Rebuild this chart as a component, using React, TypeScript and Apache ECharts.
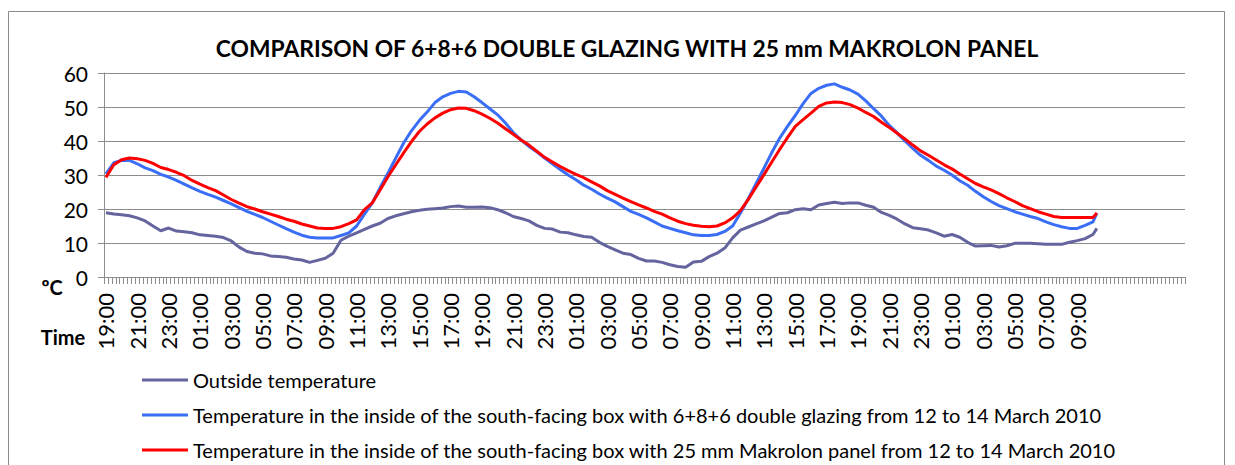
import React, { useEffect, useRef } from "react";
import * as echarts from "echarts";

const TITLE = "COMPARISON OF 6+8+6 DOUBLE GLAZING WITH 25 mm MAKROLON PANEL";
const SERIES_NAMES = [
  "Outside temperature",
  "Temperature in the inside of the south-facing box with 6+8+6 double glazing from 12 to 14 March 2010",
  "Temperature in the inside of the south-facing box with 25 mm Makrolon panel from 12 to 14 March 2010",
];
const SERIES_COLORS = ["#64649e", "#3b6ef6", "#ff0000"];

// x axis: 15-minute categories starting at 19:00
const START_MINUTES = 19 * 60;
const STEP_MINUTES = 15;
const CATEGORY_COUNT = 276;
const LABEL_EVERY = 8; // one label every 2 hours
// samples are read every 30 minutes (every 2nd category), plus a final reading
const SAMPLE_STEP = 2;
const LAST_SAMPLE_INDEX = 253;

const Y_MIN = 0;
const Y_MAX = 60;
const Y_STEP = 10;

const OUTSIDE = [
  18.9, 18.5, 18.3, 18.0, 17.4, 16.5, 15.0, 13.6, 14.4, 13.5,
  13.3, 13.0, 12.4, 12.2, 12.0, 11.6, 10.6, 8.8, 7.5, 7.0,
  6.8, 6.2, 6.0, 5.8, 5.3, 5.0, 4.3, 4.9, 5.5, 7.0,
  10.8, 12.0, 13.0, 14.0, 15.0, 15.8, 17.2, 18.0, 18.6, 19.2,
  19.6, 19.9, 20.1, 20.3, 20.7, 20.9, 20.5, 20.5, 20.6, 20.4,
  19.8, 18.9, 17.8, 17.2, 16.5, 15.2, 14.3, 14.1, 13.2, 13.0,
  12.4, 11.9, 11.7, 10.2, 9.0, 8.0, 7.0, 6.6, 5.5, 4.7,
  4.7, 4.3, 3.6, 3.1, 2.9, 4.4, 4.6, 6.0, 7.0, 8.5,
  11.5, 13.8, 14.7, 15.6, 16.5, 17.6, 18.7, 18.9, 19.8, 20.1,
  19.8, 21.2, 21.6, 22.0, 21.6, 21.8, 21.8, 21.1, 20.5, 19.0,
  18.1, 17.0, 15.6, 14.5, 14.2, 13.8, 13.0, 12.0, 12.5, 11.7,
  10.2, 9.1, 9.2, 9.3, 8.8, 9.2, 9.9, 9.9, 9.9, 9.8,
  9.6, 9.6, 9.6, 10.2, 10.7, 11.3, 12.5,
];
const OUTSIDE_LAST = 14.3;

const DOUBLE_GLAZING = [
  30.3, 33.6, 34.3, 34.3, 33.3, 32.1, 31.3, 30.2, 29.4, 28.4,
  27.3, 26.2, 25.2, 24.3, 23.5, 22.5, 21.5, 20.4, 19.3, 18.4,
  17.5, 16.4, 15.3, 14.2, 13.2, 12.3, 11.7, 11.5, 11.5, 11.5,
  12.2, 13.0, 15.0, 18.5, 21.8, 26.3, 30.5, 35.0, 39.4, 43.0,
  46.0, 48.5, 51.3, 53.0, 54.0, 54.6, 54.4, 53.0, 51.3, 49.5,
  47.7, 45.3, 42.5, 40.3, 38.4, 36.8, 35.0, 33.3, 31.6, 30.0,
  28.6, 27.0, 25.8, 24.4, 23.2, 22.1, 20.7, 19.3, 18.4, 17.4,
  16.2, 15.0, 14.3, 13.6, 13.0, 12.4, 12.2, 12.2, 12.5, 13.4,
  15.0, 18.8, 23.0, 27.5, 32.0, 36.6, 40.8, 44.3, 47.5, 51.0,
  54.0, 55.5, 56.4, 56.8, 55.8, 55.0, 53.8, 51.8, 49.5, 47.3,
  44.6, 42.4, 40.0, 37.8, 35.8, 34.3, 32.6, 31.4, 30.0, 28.3,
  27.0, 25.2, 23.6, 22.2, 21.0, 20.1, 19.2, 18.5, 17.8, 17.2,
  16.2, 15.4, 14.8, 14.3, 14.3, 15.2, 16.2,
];
const DOUBLE_GLAZING_LAST = 18.8;

const MAKROLON = [
  29.3, 33.0, 34.5, 35.0, 34.8, 34.3, 33.4, 32.2, 31.6, 30.8,
  29.8, 28.4, 27.3, 26.3, 25.4, 24.1, 22.8, 21.7, 20.7, 20.0,
  19.2, 18.5, 17.8, 17.0, 16.4, 15.6, 15.0, 14.4, 14.3, 14.3,
  14.8, 15.7, 16.8, 19.8, 21.8, 25.6, 29.5, 33.0, 36.5, 39.8,
  42.8, 45.0, 46.8, 48.2, 49.2, 49.7, 49.6, 48.9, 47.9, 46.7,
  45.3, 43.6, 42.0, 40.3, 38.8, 37.0, 35.2, 33.8, 32.5, 31.3,
  30.2, 29.2, 28.0, 26.8, 25.4, 24.3, 23.2, 22.2, 21.2, 20.3,
  19.3, 18.5, 17.4, 16.4, 15.7, 15.2, 14.9, 14.8, 15.0, 15.9,
  17.4, 19.5, 22.8, 26.5, 30.1, 33.8, 37.5, 41.0, 44.3, 46.3,
  48.2, 50.2, 51.2, 51.5, 51.3, 50.7, 49.7, 48.4, 47.2, 45.5,
  44.0, 42.3, 40.6, 38.8, 37.1, 35.8, 34.4, 33.0, 31.8, 30.3,
  28.9, 27.5, 26.5, 25.6, 24.5, 23.3, 22.2, 21.0, 20.1, 19.2,
  18.5, 17.8, 17.5, 17.5, 17.5, 17.5, 17.5,
];
const MAKROLON_LAST = 18.8;

// categories: time of day every 15 min; the axis continues empty past the data
function buildCategories(): string[] {
  const out: string[] = [];
  for (let i = 0; i < CATEGORY_COUNT; i++) {
    if (i > LAST_SAMPLE_INDEX) {
      out.push("");
      continue;
    }
    const m = (START_MINUTES + i * STEP_MINUTES) % 1440;
    const hh = String(Math.floor(m / 60)).padStart(2, "0");
    const mm = String(m % 60).padStart(2, "0");
    out.push(`${hh}:${mm}`);
  }
  return out;
}

function toPairs(values: number[], last: number): [number, number][] {
  const pairs: [number, number][] = values.map((v, i) => [i * SAMPLE_STEP, v]);
  pairs.push([LAST_SAMPLE_INDEX, last]);
  return pairs;
}

const FONT = "Lato, 'Liberation Sans', sans-serif";
const GREY = "#8c8c8c";

export default function App() {
  const ref = useRef<HTMLDivElement>(null);

  useEffect(() => {
    if (!ref.current) return;
    const chart = echarts.init(ref.current, undefined, { renderer: "svg" });
    const categories = buildCategories();
    const seriesData = [
      toPairs(OUTSIDE, OUTSIDE_LAST),
      toPairs(DOUBLE_GLAZING, DOUBLE_GLAZING_LAST),
      toPairs(MAKROLON, MAKROLON_LAST),
    ];

    const legendTops = [365, 400, 435];

    chart.setOption({
      animation: false,
      backgroundColor: "#ffffff",
      textStyle: { fontFamily: FONT },
      grid: { left: 104, right: 50, top: 73, bottom: 188, containLabel: false },
      graphic: [
        {
          type: "rect",
          shape: { x: 8.5, y: 11.5, width: 1216, height: 470 },
          style: { fill: "none", stroke: "#8a8a8a", lineWidth: 1 },
          silent: true,
        },
        {
          type: "text",
          x: 627,
          y: 48,
          style: {
            text: TITLE,
            textAlign: "center",
            textVerticalAlign: "middle",
            font: `bold 22.8px ${FONT}`,
            fill: "#000000",
          },
        },
        {
          type: "text",
          x: 52,
          y: 287,
          style: {
            text: "ºC",
            textAlign: "center",
            textVerticalAlign: "middle",
            font: `bold 20px ${FONT}`,
            fill: "#000000",
          },
        },
        {
          type: "text",
          x: 63,
          y: 337,
          style: {
            text: "Time",
            textAlign: "center",
            textVerticalAlign: "middle",
            font: `bold 20px ${FONT}`,
            fill: "#000000",
          },
        },
      ],
      legend: SERIES_NAMES.map((name, i) => ({
        orient: "horizontal",
        left: 137,
        top: legendTops[i],
        itemWidth: 46,
        itemHeight: 3,
        icon: "rect",
        data: [name],
        textStyle: { fontSize: 20, color: "#000000", fontFamily: FONT },
      })),
      xAxis: {
        type: "category",
        data: categories,
        boundaryGap: true,
        axisLine: { lineStyle: { color: GREY, width: 1 } },
        axisTick: { show: true, interval: 0, length: 7, lineStyle: { color: GREY } },
        axisLabel: {
          interval: LABEL_EVERY - 1,
          rotate: 90,
          margin: 16,
          fontSize: 22,
          color: "#000000",
          fontFamily: FONT,
        },
        splitLine: { show: false },
      },
      yAxis: {
        type: "value",
        min: Y_MIN,
        max: Y_MAX,
        interval: Y_STEP,
        axisLine: { show: true, lineStyle: { color: GREY, width: 1 } },
        axisTick: { show: true, length: 6, lineStyle: { color: GREY } },
        axisLabel: { margin: 16, fontSize: 21, color: "#000000", fontFamily: FONT },
        splitLine: { show: true, lineStyle: { color: GREY, width: 1 } },
      },
      series: SERIES_NAMES.map((name, i) => ({
        name,
        type: "line",
        data: seriesData[i],
        symbol: "none",
        smooth: false,
        lineStyle: { width: 3, color: SERIES_COLORS[i] },
        itemStyle: { color: SERIES_COLORS[i] },
        z: 2 + i,
      })),
    });

    return () => chart.dispose();
  }, []);

  return (
    <div
      ref={ref}
      style={{ position: "absolute", left: 0, top: 0, width: 1235, height: 465 }}
    />
  );
}
